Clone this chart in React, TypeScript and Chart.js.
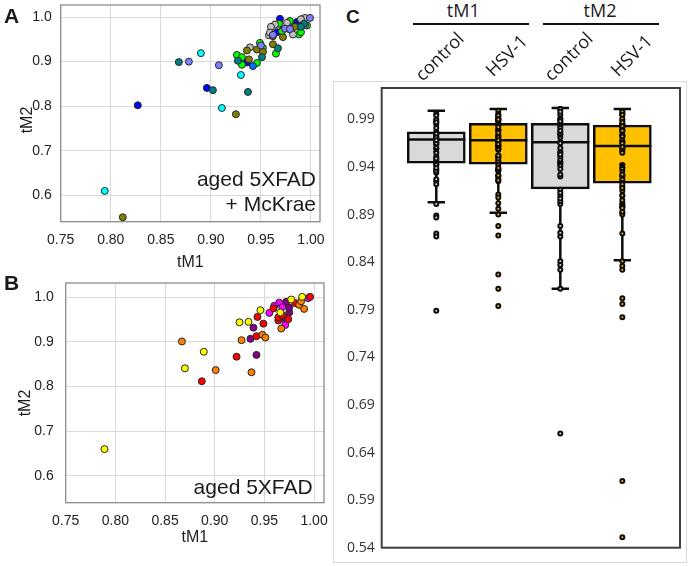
import React, { useEffect, useRef } from "react";
import { Chart, registerables } from "chart.js";
Chart.register(...registerables);

// ---------- Panel A: aged 5XFAD + McKrae  ([tM1, tM2] pairs per colour group)
const A_CYAN: [number, number][] = [[0.794, 0.61], [0.89, 0.919], [0.911, 0.796], [0.93, 0.87]];
const A_TEAL: [number, number][] = [[0.868, 0.899], [0.902, 0.836], [0.937, 0.832], [0.927, 0.902], [0.951, 0.91], [0.967, 0.93], [0.993, 0.985], [0.99, 0.978]];
const A_PERIWINKLE: [number, number][] = [[0.878, 0.9], [0.908, 0.892], [0.95, 0.936], [0.974, 0.974], [0.979, 0.973], [0.994, 0.982], [0.999, 0.998], [0.962, 0.96]];
const A_BLUE: [number, number][] = [[0.827, 0.802], [0.896, 0.841], [0.936, 0.898], [0.969, 0.996], [0.966, 0.966], [0.979, 0.972], [0.986, 0.989], [0.991, 0.995], [0.972, 0.972], [0.984, 0.984]];
const A_AZURE: [number, number][] = [[0.942, 0.89]];
const A_OLIVE: [number, number][] = [[0.812, 0.551], [0.925, 0.782], [0.936, 0.925], [0.938, 0.905], [0.946, 0.927], [0.952, 0.922], [0.962, 0.957], [0.962, 0.939], [0.972, 0.955], [0.984, 0.978]];
const A_GREEN: [number, number][] = [[0.926, 0.915], [0.931, 0.893], [0.946, 0.897], [0.949, 0.942], [0.952, 0.931], [0.965, 0.918], [0.971, 0.968], [0.979, 0.991], [0.988, 0.961], [0.99, 0.966], [0.996, 0.981], [0.931, 0.91], [0.968, 0.985]];
const A_GRAY: [number, number][] = [[0.939, 0.932], [0.958, 0.959], [0.964, 0.983], [0.96, 0.978], [0.982, 0.961], [0.976, 0.987], [0.994, 0.998], [0.959, 0.965], [0.99, 0.995]];

// ---------- Panel B: aged 5XFAD
const B_YELLOW: [number, number][] = [[0.789, 0.66], [0.87, 0.841], [0.889, 0.878], [0.925, 0.944], [0.934, 0.945], [0.946, 0.971], [0.966, 0.966], [0.977, 0.995], [0.988, 1.001]];
const B_ORANGE: [number, number][] = [[0.867, 0.901], [0.901, 0.837], [0.937, 0.832], [0.927, 0.904], [0.948, 0.916], [0.951, 0.91], [0.967, 0.93], [0.985, 0.983], [0.99, 0.974], [0.987, 0.991]];
const B_RED: [number, number][] = [[0.887, 0.812], [0.922, 0.867], [0.942, 0.913], [0.943, 0.956], [0.949, 0.941], [0.964, 0.948], [0.964, 0.955], [0.959, 0.975], [0.974, 0.951], [0.981, 0.987], [0.996, 1.001], [0.968, 0.96]];
const B_PURPLE: [number, number][] = [[0.942, 0.871], [0.936, 0.907], [0.939, 0.932], [0.97, 0.953], [0.972, 0.99], [0.975, 0.966], [0.975, 0.977]];
const B_MAGENTA: [number, number][] = [[0.955, 0.965], [0.96, 0.981], [0.965, 0.988], [0.971, 0.938], [0.994, 0.998], [0.968, 0.978]];

const SCATTER_X_TICKS = [0.75, 0.8, 0.85, 0.9, 0.95, 1.0];
const SCATTER_Y_TICKS = [0.6, 0.7, 0.8, 0.9, 1.0];

// ---------- Panel C: box plots
const BOX_GROUPS = ["tM1", "tM2"];
const BOX_LABELS = ["control", "HSV-1", "control", "HSV-1"];
const BOX_POS = [1, 2, 3, 4];
const BOX_Q1 = [0.944, 0.943, 0.917, 0.923];
const BOX_MEDIAN = [0.969, 0.968, 0.966, 0.962];
const BOX_Q3 = [0.977, 0.986, 0.986, 0.984];
const WHISKER_LOW = [0.903, 0.892, 0.812, 0.842];
const WHISKER_HIGH = [0.999, 1.001, 1.002, 1.001];
const BOX_MEAN = [0.958, 0.961, 0.944, 0.941];
const BOX_FILL = ["#d9d9d9", "#ffc000", "#d9d9d9", "#ffc000"];
const BOX_Y_TICKS = [0.54, 0.59, 0.64, 0.69, 0.74, 0.79, 0.84, 0.89, 0.94, 0.99];

const A_SERIES = [
  { data: A_CYAN, color: "#00ffff" },
  { data: A_TEAL, color: "#008080" },
  { data: A_PERIWINKLE, color: "#8080ff" },
  { data: A_AZURE, color: "#0070ff" },
  { data: A_OLIVE, color: "#808000" },
  { data: A_GRAY, color: "#c0c0c0" },
  { data: A_GREEN, color: "#00ff00" },
  { data: A_BLUE, color: "#0000ff" },
];
const B_SERIES = [
  { data: B_YELLOW, color: "#ffff00" },
  { data: B_ORANGE, color: "#ff8000" },
  { data: B_RED, color: "#ff0000" },
  { data: B_MAGENTA, color: "#ff00ff" },
  { data: B_PURPLE, color: "#800080" },
];

const SANS = "'Liberation Sans', Arial, sans-serif";
const OPEN = "'Open Sans', sans-serif";

const framePlugin = {
  id: "frame",
  beforeDatasetsDraw(chart: any, _args: any, opts: any) {
    const { ctx, chartArea } = chart;
    const { left, top, right, bottom } = chartArea;
    ctx.save();
    ctx.strokeStyle = opts.color || "#888";
    ctx.lineWidth = opts.width || 1;
    ctx.strokeRect(left, top, right - left, bottom - top);
    ctx.restore();
  },
};

const boxPlugin = {
  id: "boxDecor",
  afterDatasetDraw(chart: any, args: any) {
    if (args.meta.type !== "bar") return;
    const { ctx } = chart;
    const xs = chart.scales.x;
    const ys = chart.scales.y;
    ctx.save();
    ctx.strokeStyle = "#0d0d0d";
    ctx.lineWidth = 2.5;
    ctx.lineCap = "butt";
    BOX_POS.forEach((xv, i) => {
      const bar = args.meta.data[i];
      const half = bar.width / 2;
      const cap = bar.width * 0.15;
      const cx = xs.getPixelForValue(xv);
      const yMed = ys.getPixelForValue(BOX_MEDIAN[i]);
      const yQ1 = ys.getPixelForValue(BOX_Q1[i]);
      const yQ3 = ys.getPixelForValue(BOX_Q3[i]);
      const yLo = ys.getPixelForValue(WHISKER_LOW[i]);
      const yHi = ys.getPixelForValue(WHISKER_HIGH[i]);
      ctx.beginPath();
      ctx.moveTo(cx - half, yMed);
      ctx.lineTo(cx + half, yMed);
      ctx.moveTo(cx, yQ3);
      ctx.lineTo(cx, yHi);
      ctx.moveTo(cx, yQ1);
      ctx.lineTo(cx, yLo);
      ctx.moveTo(cx - cap, yHi);
      ctx.lineTo(cx + cap, yHi);
      ctx.moveTo(cx - cap, yLo);
      ctx.lineTo(cx + cap, yLo);
      ctx.stroke();
    });
    ctx.restore();
  },
};

const zeroPadY = (w: number) => (s: any) => {
  s.width = w;
  s.paddingTop = 0;
  s.paddingBottom = 0;
};
const zeroPadX = (h: number) => (s: any) => {
  s.height = h;
  s.paddingLeft = 0;
  s.paddingRight = 0;
};

function scatterConfig(series: { data: [number, number][]; color: string }[], o: any) {
  return {
    type: "scatter",
    data: {
      datasets: series.map((s) => ({
        data: s.data.map(([x, y]) => ({ x, y })),
        backgroundColor: s.color,
        borderColor: "#262626",
        borderWidth: 1,
        pointRadius: 3.5,
      })),
    },
    options: {
      animation: false,
      responsive: false,
      events: [],
      layout: { padding: { left: 0, top: o.padTop, right: o.padRight, bottom: 0 } },
      plugins: {
        legend: { display: false },
        tooltip: { enabled: false },
        frame: { color: "#8c8c8c", width: 1.3 },
      },
      scales: {
        x: {
          type: "linear",
          min: 0.75,
          max: o.xMax,
          afterBuildTicks: (s: any) => {
            s.ticks = SCATTER_X_TICKS.map((v) => ({ value: v }));
          },
          afterFit: zeroPadX(o.xAxisHeight),
          grid: { color: "#d9d9d9", drawTicks: false, lineWidth: 1 },
          border: { display: false },
          ticks: {
            padding: 10,
            color: "#222",
            font: { family: SANS, size: 14 },
            maxRotation: 0,
            callback: (v: any) => Number(v).toFixed(2),
          },
          title: {
            display: true,
            text: "tM1",
            color: "#222",
            font: { family: SANS, size: 16 },
            padding: { top: 0, bottom: o.titlePad },
          },
        },
        y: {
          type: "linear",
          min: o.yMin,
          max: o.yMax,
          afterBuildTicks: (s: any) => {
            s.ticks = SCATTER_Y_TICKS.map((v) => ({ value: v }));
          },
          afterFit: zeroPadY(o.yAxisWidth),
          grid: { color: "#d9d9d9", drawTicks: false, lineWidth: 1 },
          border: { display: false },
          ticks: {
            padding: o.yTickPad,
            color: "#222",
            font: { family: SANS, size: 14 },
            callback: (v: any) => Number(v).toFixed(1),
          },
        },
      },
    },
    plugins: [framePlugin],
  };
}

function boxConfig() {
  const allB = [...B_YELLOW, ...B_ORANGE, ...B_RED, ...B_PURPLE, ...B_MAGENTA];
  const allA = [...A_CYAN, ...A_TEAL, ...A_PERIWINKLE, ...A_BLUE, ...A_AZURE, ...A_OLIVE, ...A_GREEN, ...A_GRAY];
  const groups = [
    allB.map((p) => p[0]),
    allA.map((p) => p[0]),
    allB.map((p) => p[1]),
    allA.map((p) => p[1]),
  ];
  const dots: { x: number; y: number }[] = [];
  const dotColors: string[] = [];
  groups.forEach((vals, i) => {
    vals.forEach((v) => {
      dots.push({ x: BOX_POS[i], y: v });
      dotColors.push(BOX_FILL[i]);
    });
  });
  return {
    type: "scatter",
    data: {
      datasets: [
        {
          type: "bar",
          data: BOX_POS.map((x, i) => ({ x, y: [BOX_Q1[i], BOX_Q3[i]] })),
          backgroundColor: BOX_FILL,
          borderColor: "#0d0d0d",
          borderWidth: 2.5,
          borderSkipped: false,
          barThickness: 58,
          order: 3,
        },
        {
          type: "scatter",
          data: dots,
          backgroundColor: dotColors,
          borderColor: "#0d0d0d",
          borderWidth: 2,
          pointRadius: 2,
          order: 2,
        },
        {
          type: "scatter",
          data: BOX_POS.map((x, i) => ({ x, y: BOX_MEAN[i] })),
          pointStyle: "crossRot",
          pointRadius: 3.5,
          borderColor: "#000",
          borderWidth: 2,
          backgroundColor: "transparent",
          order: 1,
        },
      ],
    },
    options: {
      animation: false,
      responsive: false,
      events: [],
      layout: { padding: { left: 0, top: 5.7, right: 6, bottom: 14.3 } },
      plugins: {
        legend: { display: false },
        tooltip: { enabled: false },
        frame: { color: "#404040", width: 2 },
      },
      scales: {
        x: { type: "linear", display: false, min: 0.12, max: 4.93, offset: false },
        y: {
          type: "linear",
          min: 0.54,
          max: 1.023,
          afterBuildTicks: (s: any) => {
            s.ticks = BOX_Y_TICKS.map((v) => ({ value: v }));
          },
          afterFit: zeroPadY(47.7),
          grid: { display: false, drawTicks: false },
          border: { display: false },
          ticks: {
            padding: 7,
            color: "#333",
            font: { family: OPEN, size: 14 },
            callback: (v: any) => Number(v).toFixed(2),
          },
        },
      },
    },
    plugins: [framePlugin, boxPlugin],
  };
}

function ChartCanvas({ config, width, height, style }: any) {
  const ref = useRef<HTMLCanvasElement>(null);
  useEffect(() => {
    if (!ref.current) return;
    const chart = new Chart(ref.current, config());
    return () => chart.destroy();
  }, []);
  return <canvas ref={ref} width={width} height={height} style={{ display: "block", width, height, ...style }} />;
}

const Txt = ({ x, y, size, family = SANS, bold = false, children, style }: any) => (
  <div
    style={{
      position: "absolute",
      left: x,
      top: y,
      fontSize: size,
      fontFamily: family,
      fontWeight: bold ? 700 : 400,
      lineHeight: 1,
      whiteSpace: "nowrap",
      color: "#1a1a1a",
      ...style,
    }}
  >
    {children}
  </div>
);

export default function App() {
  const centered = { transform: "translate(-50%, -50%)" };
  return (
    <div style={{ position: "absolute", left: 0, top: 0, width: 688, height: 566, background: "#fff", overflow: "hidden" }}>
      <ChartCanvas
        width={330}
        height={275}
        style={{ position: "absolute", left: 0, top: 0 }}
        config={() =>
          scatterConfig(A_SERIES, {
            padTop: 2.7, padRight: 10, xMax: 1.009, yMin: 0.541, yMax: 1.027,
            xAxisHeight: 53.3, yAxisWidth: 60.7, yTickPad: 9, titlePad: 2.4,
          })
        }
      />
      <ChartCanvas
        width={330}
        height={270}
        style={{ position: "absolute", left: 0, top: 278 }}
        config={() =>
          scatterConfig(B_SERIES, {
            padTop: 5, padRight: 6, xMax: 1.01, yMin: 0.54, yMax: 1.032,
            xAxisHeight: 45.3, yAxisWidth: 65.7, yTickPad: 12, titlePad: 0.9,
          })
        }
      />
      <div style={{ position: "absolute", left: 333, top: 81, width: 352, height: 480, border: "1px solid #d9d9d9" }}>
        <ChartCanvas width={352} height={480} config={boxConfig} />
      </div>

      {/* panel letters */}
      <Txt x={4} y={5} size={21} bold>A</Txt>
      <Txt x={4} y={272} size={21} bold>B</Txt>
      <Txt x={346} y={6.8} size={19} bold>C</Txt>

      {/* scatter y titles */}
      <Txt x={27} y={120} size={16} style={{ transform: "translate(-50%, -50%) rotate(-90deg)" }}>tM2</Txt>
      <Txt x={25} y={403} size={16} style={{ transform: "translate(-50%, -50%) rotate(-90deg)" }}>tM2</Txt>

      {/* annotations */}
      <Txt x={undefined} y={168.2} size={21} style={{ right: 372, textAlign: "right" }}>aged 5XFAD</Txt>
      <Txt x={undefined} y={193.2} size={21} style={{ right: 372, textAlign: "right" }}>+ McKrae</Txt>
      <Txt x={undefined} y={475.7} size={21} style={{ right: 375.3, textAlign: "right" }}>aged 5XFAD</Txt>

      {/* panel C header */}
      <Txt x={463.3} y={9.5} size={18} family={OPEN} style={centered}>{BOX_GROUPS[0]}</Txt>
      <Txt x={600} y={9.5} size={18} family={OPEN} style={centered}>{BOX_GROUPS[1]}</Txt>
      <div style={{ position: "absolute", left: 412.7, top: 23, width: 116.6, height: 2, background: "#111" }} />
      <div style={{ position: "absolute", left: 542.7, top: 23, width: 116.6, height: 2, background: "#111" }} />
      {BOX_LABELS.map((lab, i) => {
        const cx = [439.3, 505.8, 568.3, 630.8][i];
        const cy = [55.8, 55, 55.8, 55][i];
        return (
          <Txt key={i} x={cx} y={cy} size={18} family={OPEN} style={{ transform: "translate(-50%, -50%) rotate(-45deg)" }}>
            {lab}
          </Txt>
        );
      })}
    </div>
  );
}
